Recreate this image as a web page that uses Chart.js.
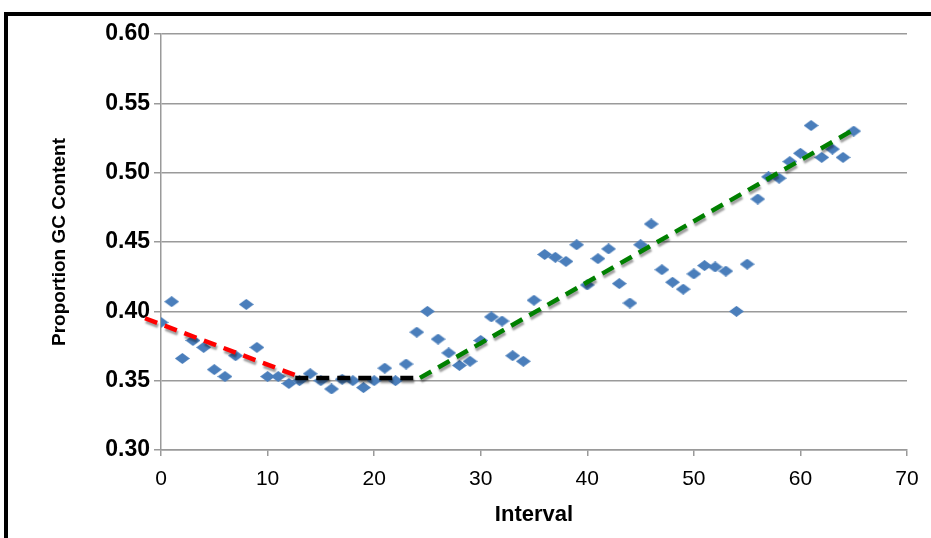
<!DOCTYPE html>
<html>
<head>
<meta charset="utf-8">
<script src="https://cdn.jsdelivr.net/npm/chart.js@4.4.1/dist/chart.umd.min.js"></script>
<style>
html,body{margin:0;padding:0;background:#fff;}
#wrap{position:relative;width:931px;height:538px;overflow:hidden;background:#fff;}
#c{position:absolute;left:0;top:0;}
#frame{position:absolute;left:4px;top:12px;right:-10px;bottom:-10px;border-top:4px solid #000;border-left:4px solid #000;pointer-events:none;}
</style>
</head>
<body>
<div id="wrap"><canvas id="c" width="931" height="538"></canvas><div id="frame"></div></div>
<script>
// ---- data ----
const intervals = [0,1,2,3,4,5,6,7,8,9,10,11,12,13,14,15,16,17,18,19,20,21,22,23,24,25,26,27,28,29,30,31,32,33,34,35,36,37,38,39,40,41,42,43,44,45,46,47,48,49,50,51,52,53,54,55,56,57,58,59,60,61,62,63,64,65];
const gcContent = [0.392,0.407,0.366,0.379,0.374,0.358,0.353,0.368,0.405,0.374,0.353,0.353,0.348,0.350,0.355,0.350,0.344,0.351,0.350,0.345,0.350,0.359,0.350,0.362,0.385,0.400,0.380,0.370,0.361,0.364,0.379,0.396,0.393,0.368,0.364,0.408,0.441,0.439,0.436,0.448,0.419,0.438,0.445,0.420,0.406,0.448,0.463,0.430,0.421,0.416,0.427,0.433,0.432,0.429,0.400,0.434,0.481,0.497,0.496,0.508,0.514,0.534,0.511,0.517,0.511,0.530];
const redTrendX = [-1.5, 12.6];
const redTrendY = [0.395, 0.354];
const blackTrendX = [12.6, 24.3];
const blackTrendY = [0.352, 0.352];
const greenTrendX = [24.3, 65];
const greenTrendY = [0.352, 0.531];
const yTicks = [0.30,0.35,0.40,0.45,0.50,0.55,0.60];
const xTicks = [0,10,20,30,40,50,60,70];

function pts(xs, ys){ return xs.map((x,i)=>({x:x, y:ys[i]})); }

function makeDiamond(w,h,color){
  const c=document.createElement('canvas'); c.width=w; c.height=h;
  const g=c.getContext('2d');
  g.fillStyle=color;
  g.beginPath(); g.moveTo(w/2,0); g.lineTo(w,h/2); g.lineTo(w/2,h); g.lineTo(0,h/2); g.closePath(); g.fill();
  return c;
}
const diamond = makeDiamond(15,11,'#4a7ebb');

const shadowPlugin = {
  id:'lineShadow',
  beforeDatasetDraw(chart, args){
    const ds = chart.data.datasets[args.index];
    if (ds.shadow){
      const ctx = chart.ctx; ctx.save();
      ctx.shadowColor='rgba(0,0,0,0.38)'; ctx.shadowOffsetX=1; ctx.shadowOffsetY=3; ctx.shadowBlur=2;
    }
  },
  afterDatasetDraw(chart, args){
    const ds = chart.data.datasets[args.index];
    if (ds.shadow) chart.ctx.restore();
  }
};

const FONT = "'Liberation Sans', Arial, Helvetica, sans-serif";

new Chart(document.getElementById('c'), {
  type:'scatter',
  data:{
    datasets:[
      {label:'GC', data:pts(intervals,gcContent), pointStyle:diamond, pointRadius:7, pointHoverRadius:7, order:2, showLine:false},
      {label:'red', data:pts(redTrendX,redTrendY), showLine:true, borderColor:'#ff0000', borderWidth:4.5, borderDash:[13,8], pointRadius:0, clip:false, order:1, shadow:true},
      {label:'black', data:pts(blackTrendX,blackTrendY), showLine:true, borderColor:'#000000', borderWidth:4.5, borderDash:[13,8], pointRadius:0, order:1, shadow:true},
      {label:'green', data:pts(greenTrendX,greenTrendY), showLine:true, borderColor:'#008000', borderWidth:4.5, borderDash:[13,8], pointRadius:0, order:1, shadow:true}
    ]
  },
  options:{
    responsive:false, animation:false, devicePixelRatio:1,
    layout:{padding:{left:38,top:34,right:24,bottom:8}},
    plugins:{legend:{display:false}, tooltip:{enabled:false}},
    scales:{
      x:{
        type:'linear', min:0, max:70,
        afterBuildTicks(s){ s.ticks = xTicks.map(v=>({value:v})); },
        afterFit(s){ s.height = 538-450-8; },
        ticks:{font:{family:FONT,size:21}, color:'#000', padding:11},
        grid:{drawOnChartArea:false, drawTicks:true, tickLength:6, color:'#9a9a9a', lineWidth:1.5},
        border:{color:'#9a9a9a', width:1.5},
        title:{display:true, text:'Interval', font:{family:FONT,size:22,weight:'bold'}, color:'#000', padding:{top:0,bottom:2}}
      },
      y:{
        type:'linear', min:0.30, max:0.60,
        afterBuildTicks(s){ s.ticks = yTicks.map(v=>({value:v})); },
        afterFit(s){ s.width = 161-38; },
        ticks:{font:{family:FONT,size:23,weight:'bold'}, color:'#000', padding:4, callback:(v)=>v.toFixed(2)},
        grid:{color:'#9a9a9a', lineWidth:1.5, tickLength:7},
        border:{color:'#9a9a9a', width:1.5},
        title:{display:true, text:'Proportion GC Content', font:{family:FONT,size:19,weight:'bold'}, color:'#000', padding:{top:10,bottom:0}}
      }
    }
  },
  plugins:[shadowPlugin]
});
</script>
</body>
</html>
